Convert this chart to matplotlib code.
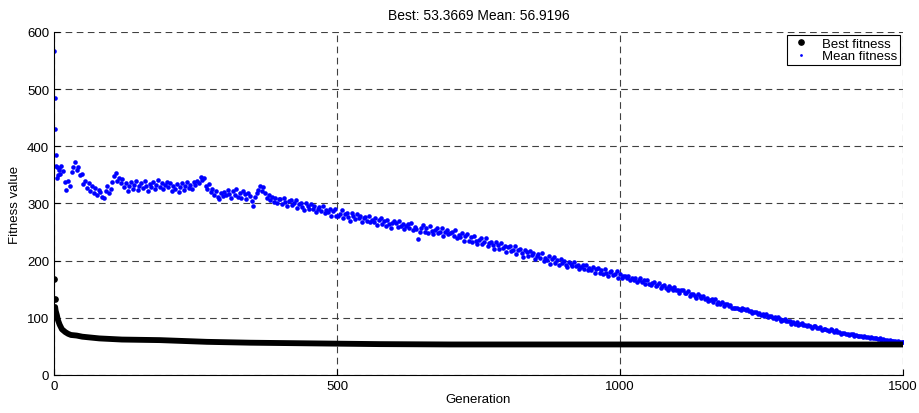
import matplotlib
matplotlib.use("Agg")
import matplotlib.pyplot as plt
from matplotlib.lines import Line2D

plt.rcParams['font.family'] = ['Liberation Sans', 'DejaVu Sans']

# best fitness, read at the generations where it changes
best_gen = [0, 1, 2, 3, 5, 7, 10, 14, 20, 25, 30, 40, 50, 60, 80, 100, 120,
            187, 270, 346, 576, 700, 1500]
best_val = [168, 133, 119, 112, 105, 96, 88, 80, 75, 72, 70, 69, 67, 66, 64, 63, 62,
            61, 58, 56.5, 54, 53.4, 53.3669]

# mean fitness: every generation up to 9, then every 3rd generation, then the last one
mean_gen = list(range(0, 10)) + list(range(10, 1499, 3)) + [1500]
mean_val = [
    567, 485, 430, 384, 365, 363, 345, 350, 358, 362,
    # 10 - 97
    352, 366, 356, 338, 323, 340, 331, 355, 364, 372, 358, 364, 349, 352, 334,
    340, 327, 336, 322, 331, 318, 327, 315, 324, 320, 311, 309, 322, 330, 318,
    # 100 - 199
    326, 338, 348, 354, 339, 345, 336, 342, 329, 335, 321, 330, 338, 326, 333, 340, 324,
    331, 336, 327, 339, 330, 322, 334, 328, 337, 325, 333, 341, 329, 335, 326, 332, 338,
    # 202 - 298
    329, 336, 322, 331, 326, 334, 320, 329, 335, 324, 331, 338, 327, 333, 325, 338, 332,
    340, 336, 346, 341, 344, 331, 325, 334, 320, 326, 315, 321, 312, 307, 318, 313,
    # 301 - 397
    320, 314, 323, 317, 309, 321, 315, 326, 312, 318, 310, 322, 316, 308, 319, 313, 304,
    295, 311, 318, 324, 330, 322, 328, 318, 309, 315, 306, 312, 303, 309, 301, 307,
    # 400 - 499
    308, 299, 310, 302, 295, 304, 306, 297, 300, 306, 292, 299, 301, 294, 288, 300, 296,
    290, 299, 291, 295, 285, 290, 294, 286, 296, 283, 288, 285, 291, 278, 287, 290, 279,
    # 502 - 598
    279, 282, 288, 275, 281, 284, 277, 270, 283, 279, 273, 282, 275, 278, 268, 274, 277,
    270, 279, 267, 272, 268, 275, 262, 271, 274, 264, 270, 261, 272, 264, 258, 266,
    # 601 - 697
    269, 266, 259, 269, 261, 265, 255, 261, 264, 257, 266, 254, 259, 256, 238, 250, 258,
    262, 251, 258, 249, 260, 252, 246, 254, 257, 248, 251, 258, 244, 251, 253, 247,
    # 700 - 799
    248, 251, 243, 253, 240, 245, 241, 248, 235, 243, 246, 235, 242, 233, 243, 235, 229,
    237, 239, 230, 232, 239, 225, 231, 233, 227, 220, 232, 228, 221, 231, 223, 226, 216,
    # 802 - 898
    224, 226, 217, 219, 225, 212, 218, 220, 213, 207, 219, 215, 208, 217, 210, 213, 203,
    208, 211, 204, 213, 200, 205, 202, 208, 195, 203, 206, 196, 202, 193, 203, 196,
    # 901 - 997
    199, 193, 189, 198, 195, 190, 197, 190, 193, 185, 189, 192, 186, 193, 183, 187, 183,
    189, 178, 185, 188, 179, 183, 177, 185, 178, 173, 180, 182, 175, 176, 182, 170,
    # 1000 - 1099
    176, 169, 173, 174, 169, 174, 167, 170, 167, 170, 163, 167, 169, 162, 166, 160, 166,
    160, 157, 161, 162, 156, 158, 161, 152, 156, 157, 153, 148, 155, 153, 149, 154, 148,
    # 1102 - 1198
    148, 144, 148, 149, 143, 144, 147, 139, 142, 142, 139, 135, 141, 138, 134, 138, 133,
    135, 129, 131, 133, 128, 133, 125, 128, 125, 128, 120, 124, 125, 120, 123, 117,
    # 1201 - 1297
    117, 118, 118, 116, 113, 117, 115, 113, 115, 112, 112, 108, 110, 110, 107, 109, 105,
    106, 104, 106, 101, 104, 104, 100, 101, 98, 101, 98, 95, 97, 98, 94, 94,
    # 1300 - 1399
    95, 90, 92, 90, 92, 88, 90, 91, 87, 88, 85, 88, 85, 83, 85, 86, 82,
    82, 84, 79, 80, 81, 78, 77, 80, 78, 76, 78, 75, 76, 72, 73, 74, 71,
    # 1402 - 1498
    72, 70, 71, 71, 69, 70, 68, 69, 68, 67, 68, 66, 67, 65, 66, 64, 65,
    64, 63, 64, 62, 63, 61, 62, 60, 61, 60, 59, 60, 58, 59, 57, 58,
    # 1500
    56.9196,
]

title = "Best: 53.3669 Mean: 56.9196"

fig = plt.figure(figsize=(9.2, 4.14), dpi=100)
ax = fig.add_axes([0.0587, 0.0918, 0.9228, 0.8285])

ax.plot(best_gen[2:], best_val[2:], color='black', lw=4.2, solid_capstyle='round', zorder=3)
ax.plot(best_gen[:2], best_val[:2], 'o', color='black', ms=3.8, zorder=3)
ax.plot(mean_gen, mean_val, 'o', color='#0000ff', ms=3.3, mec='none', zorder=2)

ax.set_xlim(0, 1500)
ax.set_ylim(0, 600)
ax.set_xticks([0, 500, 1000, 1500])
ax.set_yticks([0, 100, 200, 300, 400, 500, 600])
ax.tick_params(direction='in', length=4, labelsize=9.5, width=0.8)
for s in ['top', 'right']:
    ax.spines[s].set_visible(False)
ax.grid(True, color='#404040', linestyle=(0, (6, 4)), lw=0.8)
ax.set_axisbelow(True)

ax.set_title(title, fontsize=10, pad=9)
ax.set_xlabel("Generation", fontsize=9.5, labelpad=1)
ax.set_ylabel("Fitness value", fontsize=9.5, labelpad=4)

handles = [Line2D([], [], ls='none', marker='o', color='black', ms=3.8),
           Line2D([], [], ls='none', marker='o', color='#0000ff', ms=2, mec='none')]
leg = ax.legend(handles, ["Best fitness", "Mean fitness"], loc='upper right',
                fontsize=9.5, fancybox=False, edgecolor='black', framealpha=1,
                borderaxespad=0.2, handlelength=1.8, handletextpad=0.7,
                borderpad=0.2, labelspacing=0.05, markerfirst=True)
leg.get_frame().set_linewidth(0.8)

fig.savefig("out.png", dpi=100)
